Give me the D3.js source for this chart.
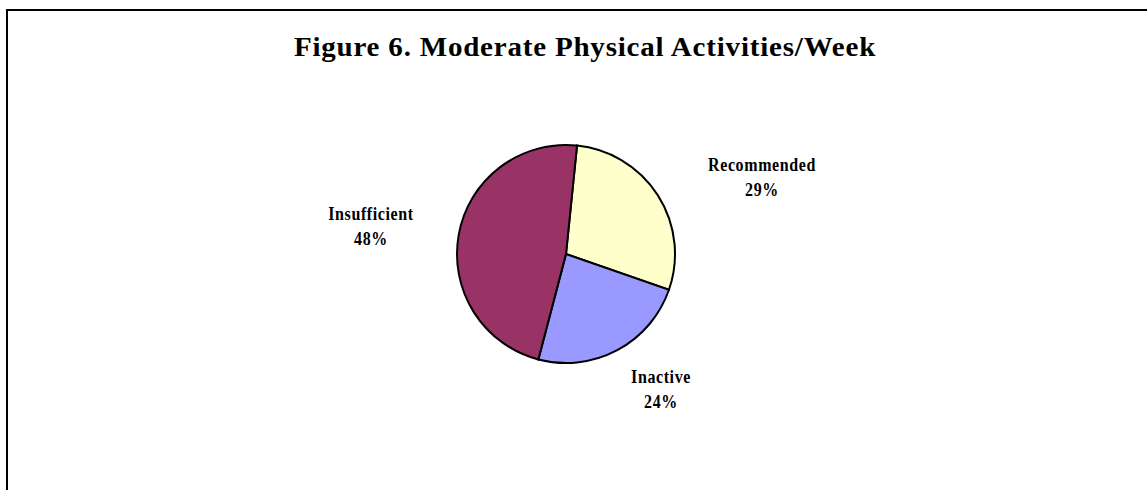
<!DOCTYPE html>
<head>
  <meta charset="utf-8">
<style>
body{
  margin: 0;
  background-color: white;
}
text{
  font-family: "Liberation Serif", "Times New Roman", serif;
  font-weight: bold;
  fill: black;
}
.slice{
  stroke: black;
  stroke-width: 2px;
}
</style>
</head>
<body>
  <svg width="1147" height="490"></svg>
</body>

<script src="https://d3js.org/d3.v7.min.js"></script>
<script>

var categories = ["Recommended", "Inactive", "Insufficient"];
var values = [29, 24, 48];
var colors = ["#ffffcc", "#9999ff", "#993366"];
var labelPos = [[762, 171], [661, 383], [371, 220]];

var svg = d3.select("svg"),
    width = +svg.attr("width"),
    height = +svg.attr("height");

// frame (runs off the right and bottom edge)
svg.append("rect")
  .attr("x", 7).attr("y", 10)
  .attr("width", 1160).attr("height", 500)
  .attr("fill", "none")
  .attr("stroke", "black")
  .attr("stroke-width", 2);

svg.append("text")
  .attr("transform", "translate(585,56) scale(1,0.92)")
  .attr("text-anchor", "middle")
  .style("font-size", "29px")
  .style("letter-spacing", "0.8px")
  .text("Figure 6. Moderate Physical Activities/Week");

const cx = 566, cy = 254, R = 109;
const a0 = 5.8 * Math.PI / 180;

var pie = d3.pie()
  .sort(null)
  .startAngle(a0)
  .endAngle(a0 + 2 * Math.PI)
  .value(d => d);

var arc = d3.arc().innerRadius(0).outerRadius(R);

var g = svg.append("g").attr("transform", `translate(${cx},${cy})`);

g.selectAll("path")
  .data(pie(values))
  .enter().append("path")
  .attr("class", "slice")
  .attr("d", arc)
  .attr("fill", (d, i) => colors[i]);

// labels are a bit taller than wide in the original
var sy = 1.15;
var lab = svg.selectAll(".lab")
  .data(categories)
  .enter().append("text")
  .attr("class", "lab")
  .attr("transform", (d, i) => `translate(${labelPos[i][0]},${labelPos[i][1]}) scale(1,${sy})`)
  .attr("text-anchor", "middle")
  .style("font-size", "16px")
  .style("letter-spacing", "0.6px");

lab.append("tspan")
  .attr("x", 0)
  .attr("y", 0)
  .text(d => d);

lab.append("tspan")
  .attr("x", 0)
  .attr("y", 25 / sy)
  .text((d, i) => values[i] + "%");

</script>
